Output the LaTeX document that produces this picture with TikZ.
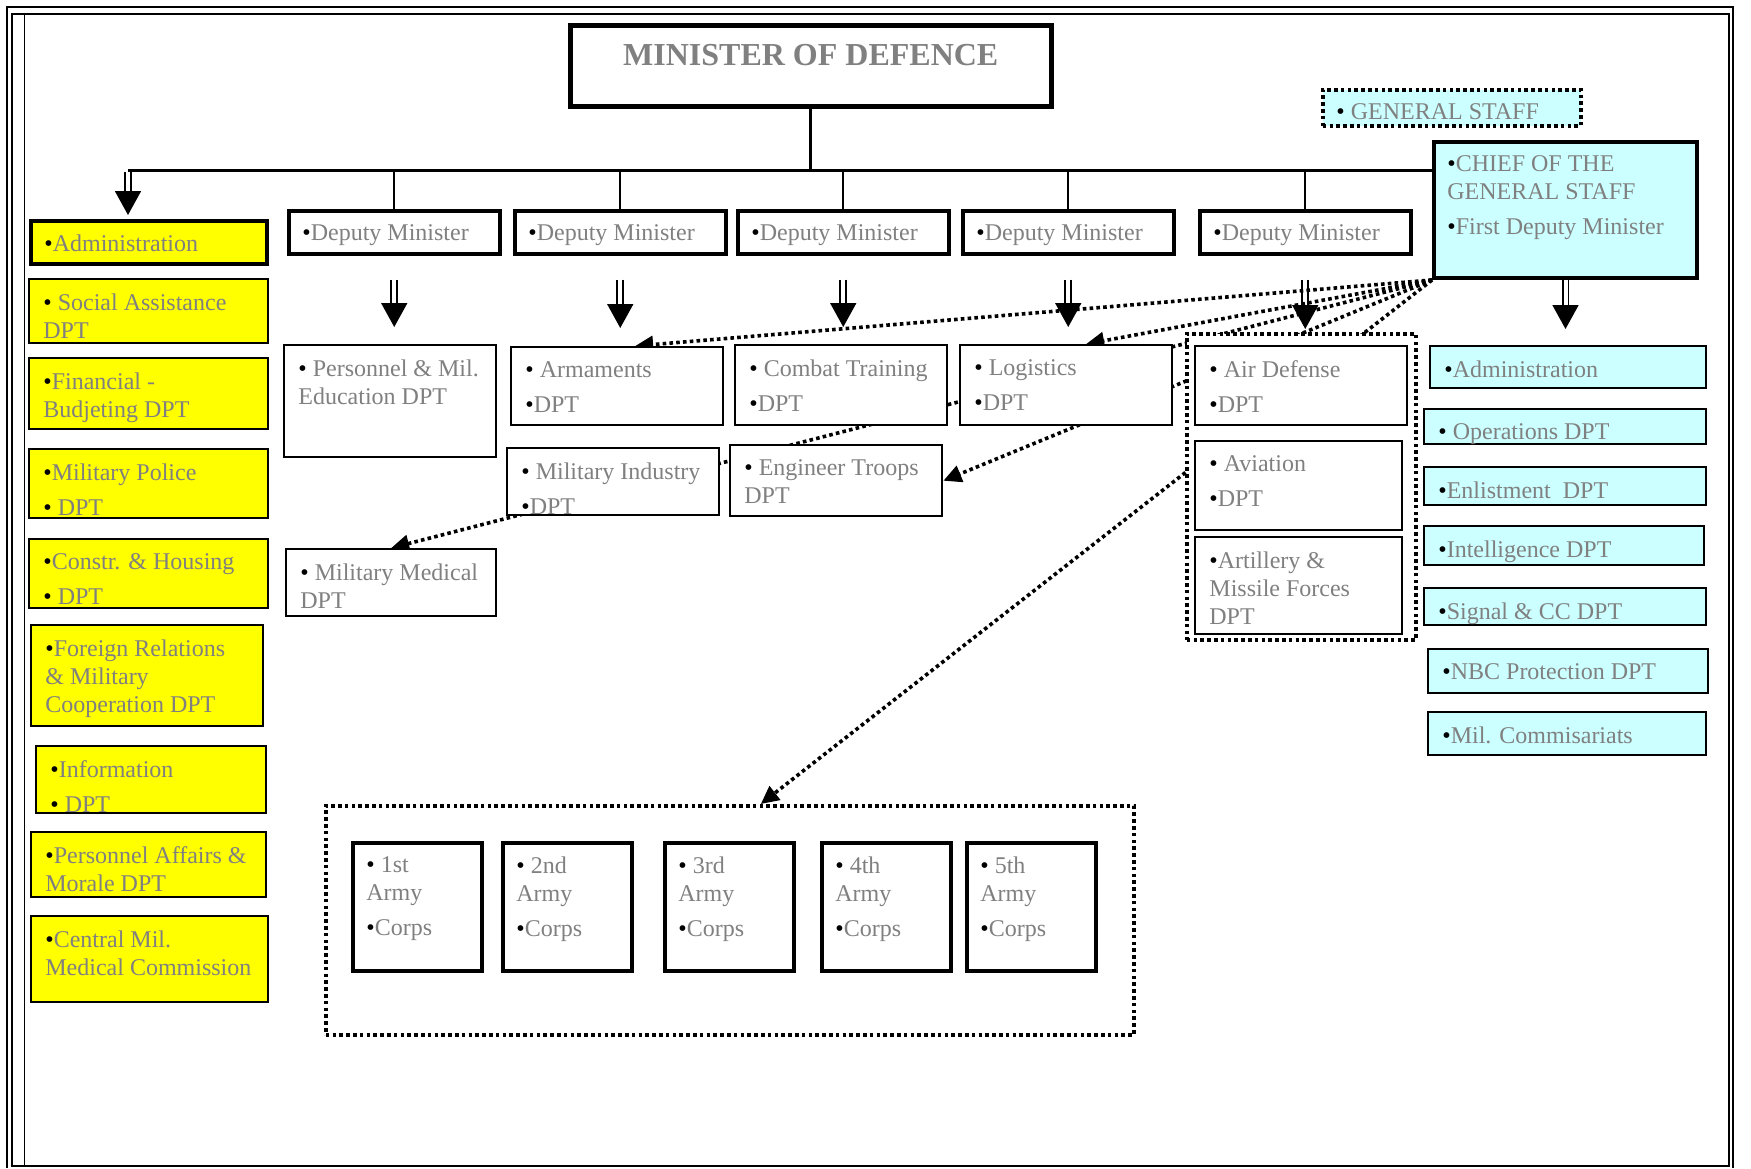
\documentclass[tikz,border=0pt]{standalone}
\usepackage{fontspec}
\setmainfont{Liberation Serif}
\usetikzlibrary{arrows.meta,calc,backgrounds}
\definecolor{txtgray}{RGB}{128,128,128}
\definecolor{yfill}{RGB}{255,255,0}
\definecolor{cfill}{RGB}{204,255,255}
\newcommand{\bul}{{\color{black}\textbullet}}

\begin{document}
\begin{tikzpicture}[x=0.5pt,y=-0.5pt,
        sz/.style 2 args={minimum width=#1*0.5pt,minimum height=#2*0.5pt},
        unit/.style={draw,rectangle,anchor=north west,inner sep=0pt,fill=white,line width=1.2pt},
        ybox/.style={unit,fill=yfill},
        cbox/.style={unit,fill=cfill},
        dotbox/.style={draw,rectangle,anchor=north west,inner sep=0pt,line width=1.8pt,dash pattern=on 1.8pt off 1.6pt},
        txt/.style={anchor=north west,align=left,inner xsep=7.5pt,inner ysep=7.5pt,text=txtgray,font=\fontsize{12}{14}\selectfont},
        conn/.style={line width=1.5pt},
        dblarr/.style={double,double distance=2pt,line width=0.9pt,-{Triangle[width=13pt,length=12pt]}},
        dotarr/.style={line width=1.8pt,dash pattern=on 1.8pt off 1.6pt,-{Triangle[width=8.5pt,length=9pt]}}]
        \useasboundingbox (0,0) rectangle (1751,1168);
        \draw[line width=1.2pt] (7,1168) -- (7,7) -- (1733,7) -- (1733,1168);
        \draw[line width=0.6pt] (12,14) rectangle (1729,1166);
        \draw[line width=0.5pt] (24,14) -- (24,1166);

        \node[unit,sz={481}{81},line width=2.25pt,label={[anchor=north,inner ysep=10.4pt,text=txtgray,font=\fontsize{16}{18}\selectfont\bfseries]north:MINISTER OF DEFENCE}] (minister) at (568,23) {};

        \node[unit,sz={211}{43},line width=1.75pt,label={[txt]north west:\bul Deputy Minister}] (dm1) at (287,209) {};
        \node[unit,sz={211}{43},line width=1.75pt,label={[txt]north west:\bul Deputy Minister}] (dm2) at (513,209) {};
        \node[unit,sz={211}{43},line width=1.75pt,label={[txt]north west:\bul Deputy Minister}] (dm3) at (736,209) {};
        \node[unit,sz={211}{43},line width=1.75pt,label={[txt]north west:\bul Deputy Minister}] (dm4) at (961,209) {};
        \node[unit,sz={211}{43},line width=1.75pt,label={[txt]north west:\bul Deputy Minister}] (dm5) at (1198,209) {};

        \node[ybox,sz={236}{43},line width=2pt,label={[txt]north west:\bul Administration}] (yadm) at (29,219) {};
        \node[ybox,sz={239}{64},label={[txt]north west:{\bul{} Social Assistance\\DPT}}] (ysoc) at (28,278) {};
        \node[ybox,sz={239}{71},label={[txt]north west:{\bul Financial -\\Budjeting DPT}}] (yfin) at (28,357) {};
        \node[ybox,sz={239}{69},label={[txt]north west:{\bul Military Police\\[3.5pt]\bul{} DPT}}] (ypol) at (28,448) {};
        \node[ybox,sz={239}{69},label={[txt]north west:{\bul Constr. \& Housing\\[3.5pt]\bul{} DPT}}] (ycon) at (28,538) {};
        \node[ybox,sz={232}{101},label={[txt]north west:{\bul Foreign Relations\\\& Military\\Cooperation DPT}}] (yfor) at (30,624) {};
        \node[ybox,sz={230}{67},label={[txt]north west:{\bul Information\\[3.5pt]\bul{} DPT}}] (yinf) at (35,745) {};
        \node[ybox,sz={235}{65},label={[txt]north west:{\bul Personnel Affairs \&\\Morale DPT}}] (ypers) at (30,831) {};
        \node[ybox,sz={237}{86},label={[txt]north west:{\bul Central Mil.\\Medical Commission}}] (ycent) at (30,915) {};

        \node[unit,sz={212}{112},label={[txt]north west:{\bul{} Personnel \& Mil.\\Education DPT}}] (pers) at (283,344) {};
        \node[unit,sz={212}{78},label={[txt]north west:{\bul{} Armaments\\[3.5pt]\bul DPT}}] (arm) at (510,346) {};
        \node[unit,sz={212}{80},label={[txt]north west:{\bul{} Combat Training\\[3.5pt]\bul DPT}}] (comb) at (734,344) {};
        \node[unit,sz={212}{80},label={[txt]north west:{\bul{} Logistics\\[3.5pt]\bul DPT}}] (logi) at (959,344) {};
        \node[unit,sz={212}{67},label={[txt]north west:{\bul{} Military Industry\\[3.5pt]\bul DPT}}] (mind) at (506,447) {};
        \node[unit,sz={212}{71},label={[txt]north west:{\bul{} Engineer Troops\\DPT}}] (eng) at (729,444) {};
        \node[unit,sz={210}{67},label={[txt]north west:{\bul{} Military Medical\\DPT}}] (med) at (285,548) {};

        \node[dotbox,fill=white,sz={229}{306}] (grp) at (1185,332) {};
        \node[unit,sz={212}{79},label={[txt]north west:{\bul{} Air Defense\\[3.5pt]\bul DPT}}] (airdef) at (1194,345) {};
        \node[unit,sz={207}{89},label={[txt]north west:{\bul{} Aviation\\[3.5pt]\bul DPT}}] (avia) at (1194,440) {};
        \node[unit,sz={207}{97},label={[txt]north west:{\bul Artillery \&\\Missile Forces\\DPT}}] (art) at (1194,536) {};

        \node[dotbox,fill=cfill,sz={258}{36},label={[txt]north west:{\bul{} GENERAL STAFF}}] (gs) at (1321,88) {};
        \node[cbox,sz={263}{136},line width=2pt,label={[txt]north west:{\bul CHIEF OF THE\\GENERAL STAFF\\[3.5pt]\bul First Deputy Minister}}] (chief) at (1432,140) {};
        \node[cbox,sz={276}{42},label={[txt]north west:\bul Administration}] (radm) at (1429,345) {};
        \node[cbox,sz={282}{35},label={[txt]north west:{\bul{} Operations DPT}}] (rops) at (1423,408) {};
        \node[cbox,sz={282}{38},label={[txt]north west:{\bul Enlistment\ \ DPT}}] (renl) at (1423,466) {};
        \node[cbox,sz={280}{39},label={[txt]north west:{\bul Intelligence DPT}}] (rint) at (1423,525) {};
        \node[cbox,sz={282}{37},label={[txt]north west:{\bul Signal \& CC DPT}}] (rsig) at (1423,587) {};
        \node[cbox,sz={280}{44},label={[txt]north west:{\bul NBC Protection DPT}}] (rnbc) at (1427,648) {};
        \node[cbox,sz={278}{43},label={[txt]north west:{\bul Mil. Commisariats}}] (rcom) at (1427,711) {};

        \node[dotbox,sz={808}{229}] (armies) at (324,804) {};
        \node[unit,sz={129}{128},line width=2pt,label={[txt]north west:{\bul{} 1st\\Army\\[3.5pt]\bul Corps}}] (a1) at (351,841) {};
        \node[unit,sz={129}{128},line width=2pt,label={[txt]north west:{\bul{} 2nd\\Army\\[3.5pt]\bul Corps}}] (a2) at (501,841) {};
        \node[unit,sz={129}{128},line width=2pt,label={[txt]north west:{\bul{} 3rd\\Army\\[3.5pt]\bul Corps}}] (a3) at (663,841) {};
        \node[unit,sz={129}{128},line width=2pt,label={[txt]north west:{\bul{} 4th\\Army\\[3.5pt]\bul Corps}}] (a4) at (820,841) {};
        \node[unit,sz={129}{128},line width=2pt,label={[txt]north west:{\bul{} 5th\\Army\\[3.5pt]\bul Corps}}] (a5) at (965,841) {};

        \begin{scope}[on background layer]
        \fill[white] (0,0) rectangle (1751,1168);
        \coordinate (busl) at (128,170);
        \draw[conn] (minister) -- (minister |- busl);
        \draw[conn] (busl) -- (busl -| chief.west);
        \draw[conn,line width=1.2pt] (dm1 |- busl) -- (dm1);
        \draw[conn,line width=1.2pt] (dm2 |- busl) -- (dm2);
        \draw[conn,line width=1.2pt] (dm3 |- busl) -- (dm3);
        \draw[conn,line width=1.2pt] (dm4 |- busl) -- (dm4);
        \draw[conn,line width=1.2pt] (dm5 |- busl) -- (dm5);
        \draw[dblarr,shorten <=0.75pt,shorten >=2pt] (busl) -- (busl |- yadm.north);
        \draw[dblarr,shorten <=12pt,shorten >=8.5pt] (dm1.south) -- (dm1.south |- pers.north);
        \draw[dblarr,shorten <=12pt,shorten >=9pt] (dm2.south) -- (dm2.south |- arm.north);
        \draw[dblarr,shorten <=12pt,shorten >=8.5pt] (dm3.south) -- (dm3.south |- comb.north);
        \draw[dblarr,shorten <=12pt,shorten >=8.5pt] (dm4.south) -- (dm4.south |- logi.north);
        \draw[dblarr,shorten <=12pt,shorten >=1.5pt] (dm5.south) -- (dm5.south |- grp.north);
        \draw[dblarr,shorten >=8pt] (chief.south) -- (chief.south |- radm.north);
        \draw[dotarr] (chief.south west) -- ($(arm.north)+(18,0)$);
        \draw[dotarr] (chief.south west) -- ($(logi.north)+(20,0)$);
        \draw[dotarr] (chief.south west) -- (med.north);
        \draw[dotarr] (chief.south west) -- (eng.east);
        \draw[dotarr] (chief.south west) -- ($(armies.north)+(31,0)$);
        \end{scope}
\end{tikzpicture}
\end{document}
